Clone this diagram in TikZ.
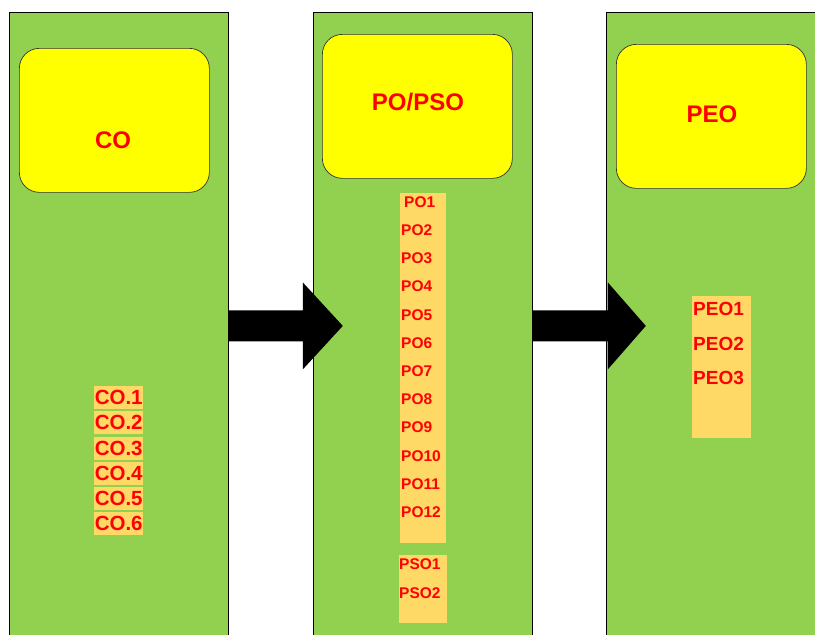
\documentclass[tikz,border=0pt]{standalone}
\usepackage{fontspec}
\setmainfont{Liberation Sans}
\definecolor{panelgreen}{RGB}{146,208,80}
\definecolor{headyellow}{RGB}{255,255,0}
\definecolor{itemorange}{RGB}{255,217,102}
\definecolor{textred}{RGB}{255,0,0}
\begin{document}
\begin{tikzpicture}[x=1pt, y=-1pt,
    panel/.style={draw=black, line width=0.8pt, fill=panelgreen,
      anchor=north west, inner sep=0pt,
      minimum width=219pt, minimum height=627pt},
    headbox/.style={draw=black!80, line width=0.7pt, fill=headyellow,
      rounded corners=20pt, anchor=north west, inner sep=0pt,
      minimum width=190pt, minimum height=144pt},
    headtxt/.style={text=textred, font=\fontsize{24}{28}\selectfont\bfseries,
      inner sep=0pt},
    listbox/.style={fill=itemorange, anchor=north west, inner sep=0pt},
    itemtxt/.style={text=textred, font=\bfseries, anchor=west, inner sep=0pt}]
  \path[use as bounding box, clip] (0,0) rectangle (815,635);

  % Columnas
  \node[panel] (copanel)  at (9,12)   {};
  \node[panel] (popanel)  at (313,12) {};
  \node[panel] (peopanel) at (606,12) {};

  % Cabeceras
  \node[headbox] (cohead)  at (19,48)  {};
  \node[headbox] (pohead)  at (322,34) {};
  \node[headbox] (peohead) at (616,44) {};
  \node[headtxt] (cotitle)  at (113,140) {CO};
  \node[headtxt] (potitle)  at (418,102) {PO/PSO};
  \node[headtxt] (peotitle) at (712,114) {PEO};

  % Flechas
  \fill[black] (copanel.east) ++(0,-15.5) -- ++(74,0) -- ++(0,-28)
    -- ++(40,43.5) -- ++(-40,43.5) -- ++(0,-28) -- ++(-74,0) -- cycle;
  \fill[black] (popanel.east) ++(0,-15.5) -- ++(75,0) -- ++(0,-28)
    -- ++(38,43.5) -- ++(-38,43.5) -- ++(0,-28) -- ++(-75,0) -- cycle;

  % CO
  \foreach \i in {1,...,6}
    \node[listbox, minimum width=49pt, minimum height=23pt,
      font=\fontsize{20.5}{24}\selectfont\bfseries, text=textred]
      (co\i) at (94,{386+25.2*(\i-1)}) {CO.\i};

  % PO
  \node[listbox, minimum width=46pt, minimum height=350pt] (pobox) at (400,193) {};
  \node[itemtxt, font=\fontsize{15.5}{18}\selectfont\bfseries] (po1) at (404,202) {PO1};
  \foreach \i in {2,...,12}
    \node[itemtxt, font=\fontsize{15.5}{18}\selectfont\bfseries]
      (po\i) at (401,{202+28.2*(\i-1)}) {PO\i};

  % PSO
  \node[listbox, minimum width=48pt, minimum height=68pt] (psobox) at (399,555) {};
  \node[itemtxt, font=\fontsize{15.5}{18}\selectfont\bfseries] (pso1) at (399,564) {PSO1};
  \node[itemtxt, font=\fontsize{15.5}{18}\selectfont\bfseries] (pso2) at (399,593) {PSO2};

  % PEO
  \node[listbox, minimum width=59pt, minimum height=142pt] (peobox) at (692,296) {};
  \foreach \i in {1,2,3}
    \node[itemtxt, font=\fontsize{19}{22}\selectfont\bfseries]
      (peo\i) at (693,{309+34.5*(\i-1)}) {PEO\i};
\end{tikzpicture}
\end{document}
